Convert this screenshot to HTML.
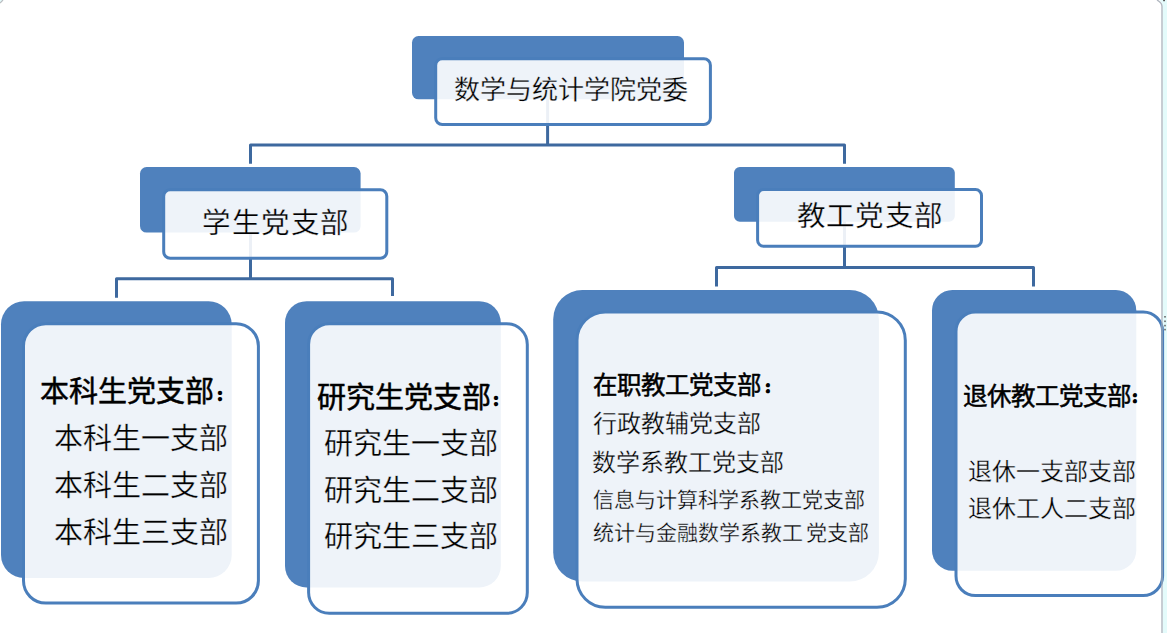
<!DOCTYPE html>
<html lang="zh-CN">
<head>
<meta charset="utf-8">
<style>
html,body{margin:0;padding:0;background:#fff;}
body{width:1167px;height:633px;position:relative;overflow:hidden;font-family:"Liberation Serif",serif;color:#000;}
svg{position:absolute;left:0;top:0;}
.t{position:absolute;white-space:nowrap;line-height:1;-webkit-text-stroke:0.3px #edf2f8;}
.b{font-weight:normal;-webkit-text-stroke:0.5px #000;}
.k{display:inline-block;}
.c{position:absolute;font-size:12px;line-height:12px;-webkit-text-stroke:2.4px #000;}
</style>
</head>
<body>
<svg width="1167" height="633" viewBox="0 0 1167 633">
 <path d="M1160 0 Q1162.7 3 1162.7 6.5 V633 H1167 V0 Z" fill="#e4fbfb"/>
 <g stroke="#3e699f" stroke-width="3" fill="none" stroke-linejoin="round">
  <path d="M547.6 90 V145 M250.5 163.7 V145 H844.5 V163.7"/>
  <path d="M250.5 225 V278.7 M116.5 297.7 V278.7 H392.5 V296"/>
  <path d="M844.5 215 V267.6 M716.5 286.5 V267.6 H1033.5 V286.5"/>
 </g>
 <g fill="#4f81bd">
  <rect x="412.0" y="36.0" width="272.0" height="63.3" rx="6.5"/>
  <rect x="140.0" y="167.0" width="220.6" height="65.6" rx="6.6"/>
  <rect x="734.0" y="167.0" width="220.8" height="54.7" rx="5.8"/>
  <rect x="1.0" y="301.2" width="230.7" height="276.8" rx="23.1"/>
  <rect x="285.0" y="301.2" width="215.8" height="286.3" rx="21.6"/>
  <rect x="553.2" y="290.0" width="325.7" height="291.5" rx="29.2"/>
  <rect x="932.0" y="290.0" width="204.3" height="280.8" rx="20.4"/>
 </g>
 <g fill="rgba(255,255,255,0.9)" stroke="#4a7ebb" stroke-width="3">
  <rect x="435.7" y="58.7" width="274.7" height="65.8" rx="6.5"/>
  <rect x="163.7" y="189.7" width="223.1" height="68.6" rx="6.5"/>
  <rect x="757.6" y="189.6" width="223.9" height="56.7" rx="6.0"/>
  <rect x="23.5" y="323.7" width="234.9" height="279.4" rx="22.3"/>
  <rect x="308.6" y="323.7" width="218.7" height="289.6" rx="20.7"/>
  <rect x="577.0" y="312.0" width="328.3" height="295.3" rx="28.3"/>
  <rect x="956.0" y="312.0" width="206.6" height="283.5" rx="19.4"/>
 </g>
 <rect x="1163.1" y="0" width="1.9" height="1.2" fill="#555"/>
 <g fill="#666">
  <rect x="1164.2" y="316" width="1.6" height="1.6"/>
  <rect x="1164.2" y="320.5" width="1.6" height="1.6"/>
  <rect x="1164.2" y="324.8" width="1.6" height="1.6"/>
  <rect x="1164.2" y="328.8" width="1.6" height="1.6"/>
 </g>
 <path d="M1157 0 Q1162 3 1162 6.5 V633" fill="none" stroke="rgba(165,172,182,0.85)" stroke-width="1.4"/>
 <path d="M0 0 H3 L0 3 Z" fill="#e3fafa"/>
 <path d="M3 0 L0 3" stroke="#b9bdc1" stroke-width="1.2"/>
</svg>

<div class="t" style="left:454px;top:77.5px;font-size:26px;"><span class="k" style="width:26px">数</span><span class="k" style="width:26px">学</span><span class="k" style="width:26px">与</span><span class="k" style="width:26px">统</span><span class="k" style="width:26px">计</span><span class="k" style="width:26px">学</span><span class="k" style="width:26px">院</span><span class="k" style="width:26px">党</span><span class="k" style="width:26px">委</span></div>
<div class="t" style="left:202px;top:209.5px;font-size:28.5px;"><span class="k" style="width:29.5px">学</span><span class="k" style="width:29.5px">生</span><span class="k" style="width:29.5px">党</span><span class="k" style="width:29.5px">支</span><span class="k" style="width:29.5px">部</span></div>
<div class="t" style="left:796.5px;top:203.3px;font-size:28.5px;"><span class="k" style="width:29.35px">教</span><span class="k" style="width:29.35px">工</span><span class="k" style="width:29.35px">党</span><span class="k" style="width:29.35px">支</span><span class="k" style="width:29.35px">部</span></div>

<div class="t b" style="left:40px;top:377.5px;font-size:29px;"><span class="k" style="width:29px">本</span><span class="k" style="width:29px">科</span><span class="k" style="width:29px">生</span><span class="k" style="width:29px">党</span><span class="k" style="width:29px">支</span><span class="k" style="width:29px">部</span><span class="c" style="left:176.7px;top:12.5px;font-size:12px;line-height:12px;">：</span></div>
<div class="t" style="left:53.5px;top:425px;font-size:29px;"><span class="k" style="width:29px">本</span><span class="k" style="width:29px">科</span><span class="k" style="width:29px">生</span><span class="k" style="width:29px">一</span><span class="k" style="width:29px">支</span><span class="k" style="width:29px">部</span></div>
<div class="t" style="left:53.5px;top:472px;font-size:29px;"><span class="k" style="width:29px">本</span><span class="k" style="width:29px">科</span><span class="k" style="width:29px">生</span><span class="k" style="width:29px">二</span><span class="k" style="width:29px">支</span><span class="k" style="width:29px">部</span></div>
<div class="t" style="left:53.5px;top:518.5px;font-size:29px;"><span class="k" style="width:29px">本</span><span class="k" style="width:29px">科</span><span class="k" style="width:29px">生</span><span class="k" style="width:29px">三</span><span class="k" style="width:29px">支</span><span class="k" style="width:29px">部</span></div>

<div class="t b" style="left:317px;top:384px;font-size:29px;"><span class="k" style="width:29px">研</span><span class="k" style="width:29px">究</span><span class="k" style="width:29px">生</span><span class="k" style="width:29px">党</span><span class="k" style="width:29px">支</span><span class="k" style="width:29px">部</span><span class="c" style="left:175.75px;top:11px;font-size:12px;line-height:12px;">：</span></div>
<div class="t" style="left:323.5px;top:429.8px;font-size:29px;"><span class="k" style="width:29px">研</span><span class="k" style="width:29px">究</span><span class="k" style="width:29px">生</span><span class="k" style="width:29px">一</span><span class="k" style="width:29px">支</span><span class="k" style="width:29px">部</span></div>
<div class="t" style="left:323.5px;top:476.8px;font-size:29px;"><span class="k" style="width:29px">研</span><span class="k" style="width:29px">究</span><span class="k" style="width:29px">生</span><span class="k" style="width:29px">二</span><span class="k" style="width:29px">支</span><span class="k" style="width:29px">部</span></div>
<div class="t" style="left:323.5px;top:523px;font-size:29px;"><span class="k" style="width:29px">研</span><span class="k" style="width:29px">究</span><span class="k" style="width:29px">生</span><span class="k" style="width:29px">三</span><span class="k" style="width:29px">支</span><span class="k" style="width:29px">部</span></div>

<div class="t b" style="left:592.5px;top:373.5px;font-size:24.5px;"><span class="k" style="width:24px">在</span><span class="k" style="width:24px">职</span><span class="k" style="width:24px">教</span><span class="k" style="width:24px">工</span><span class="k" style="width:24px">党</span><span class="k" style="width:24px">支</span><span class="k" style="width:24px">部</span><span class="c" style="left:172.3px;top:9.4px;font-size:11.5px;line-height:11.5px;">：</span></div>
<div class="t" style="left:592.5px;top:411.5px;font-size:24px;"><span class="k" style="width:24px">行</span><span class="k" style="width:24px">政</span><span class="k" style="width:24px">教</span><span class="k" style="width:24px">辅</span><span class="k" style="width:24px">党</span><span class="k" style="width:24px">支</span><span class="k" style="width:24px">部</span></div>
<div class="t" style="left:591.5px;top:451px;font-size:24px;"><span class="k" style="width:24px">数</span><span class="k" style="width:24px">学</span><span class="k" style="width:24px">系</span><span class="k" style="width:24px">教</span><span class="k" style="width:24px">工</span><span class="k" style="width:24px">党</span><span class="k" style="width:24px">支</span><span class="k" style="width:24px">部</span></div>
<div class="t" style="left:593px;top:489.5px;font-size:21px;"><span class="k" style="width:20.92px">信</span><span class="k" style="width:20.92px">息</span><span class="k" style="width:20.92px">与</span><span class="k" style="width:20.92px">计</span><span class="k" style="width:20.92px">算</span><span class="k" style="width:20.92px">科</span><span class="k" style="width:20.92px">学</span><span class="k" style="width:20.92px">系</span><span class="k" style="width:20.92px">教</span><span class="k" style="width:20.92px">工</span><span class="k" style="width:20.92px">党</span><span class="k" style="width:20.92px">支</span><span class="k" style="width:20.92px">部</span></div>
<div class="t" style="left:593px;top:523px;font-size:21px;word-spacing:-2px;"><span class="k" style="width:21px">统</span><span class="k" style="width:21px">计</span><span class="k" style="width:21px">与</span><span class="k" style="width:21px">金</span><span class="k" style="width:21px">融</span><span class="k" style="width:21px">数</span><span class="k" style="width:21px">学</span><span class="k" style="width:21px">系</span><span class="k" style="width:21px">教</span><span class="k" style="width:21px">工</span> <span class="k" style="width:21px">党</span><span class="k" style="width:21px">支</span><span class="k" style="width:21px">部</span></div>

<div class="t b" style="left:962.5px;top:385px;font-size:24.5px;"><span class="k" style="width:24px">退</span><span class="k" style="width:24px">休</span><span class="k" style="width:24px">教</span><span class="k" style="width:24px">工</span><span class="k" style="width:24px">党</span><span class="k" style="width:24px">支</span><span class="k" style="width:24px">部</span><span class="c" style="left:169.4px;top:8.2px;font-size:11.5px;line-height:11.5px;">：</span></div>
<div class="t" style="left:967.5px;top:459.5px;font-size:24px;"><span class="k" style="width:24px">退</span><span class="k" style="width:24px">休</span><span class="k" style="width:24px">一</span><span class="k" style="width:24px">支</span><span class="k" style="width:24px">部</span><span class="k" style="width:24px">支</span><span class="k" style="width:24px">部</span></div>
<div class="t" style="left:967.5px;top:497.3px;font-size:24px;"><span class="k" style="width:24px">退</span><span class="k" style="width:24px">休</span><span class="k" style="width:24px">工</span><span class="k" style="width:24px">人</span><span class="k" style="width:24px">二</span><span class="k" style="width:24px">支</span><span class="k" style="width:24px">部</span></div>
</body>
</html>
